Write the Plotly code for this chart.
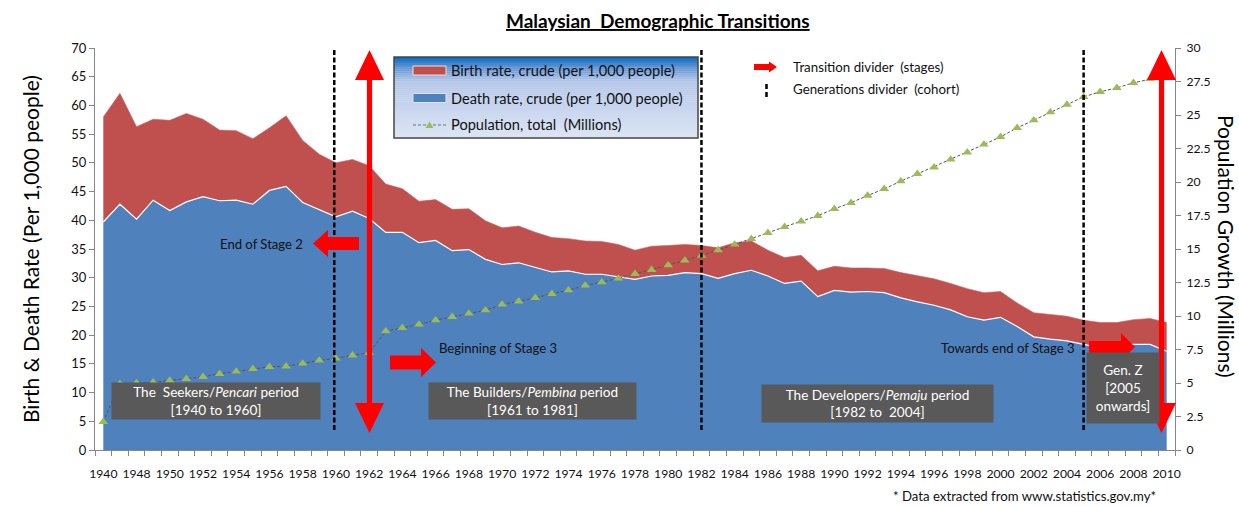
import plotly.graph_objects as go

# ---------------- data ----------------
years = [1940, 1947, 1948, 1949, 1950, 1951, 1952, 1953, 1954, 1955, 1956, 1957,
         1958, 1959, 1960, 1961, 1962, 1963, 1964, 1965, 1966, 1967, 1968, 1969,
         1970, 1971, 1972, 1973, 1974, 1975, 1976, 1977, 1978, 1979, 1980, 1981,
         1982, 1983, 1984, 1985, 1986, 1987, 1988, 1989, 1990, 1991, 1992, 1993,
         1994, 1995, 1996, 1997, 1998, 1999, 2000, 2001, 2002, 2003, 2004, 2005,
         2006, 2007, 2008, 2009, 2010]

# blue (bottom) stacked area
death_rate = [39.7, 42.8, 40.2, 43.5, 41.7, 43.2, 44.1, 43.4, 43.5, 42.8, 45.2, 45.9,
              43.1, 41.9, 40.6, 41.6, 40.3, 37.9, 37.9, 36.1, 36.5, 34.7, 34.9, 33.2,
              32.3, 32.6, 31.8, 31.0, 31.2, 30.6, 30.6, 30.2, 29.7, 30.3, 30.4, 30.9,
              30.7, 29.9, 30.7, 31.3, 30.3, 29.0, 29.4, 26.7, 27.8, 27.5, 27.6, 27.4,
              26.5, 25.8, 25.2, 24.4, 23.2, 22.6, 23.1, 21.5, 19.7, 19.3, 19.0, 18.4,
              17.8, 18.1, 18.4, 18.4, 17.2]

# red (top) stacked area
birth_rate = [18.3, 19.3, 16.1, 14.1, 15.7, 15.4, 13.5, 12.3, 12.1, 11.4, 10.9, 12.3,
              10.8, 9.6, 9.4, 9.0, 9.2, 8.4, 7.6, 7.2, 7.1, 7.2, 7.1, 6.7,
              6.4, 6.4, 6.1, 6.0, 5.6, 5.8, 5.7, 5.6, 5.1, 5.2, 5.2, 4.9,
              4.9, 5.3, 5.4, 5.1, 4.5, 4.5, 4.5, 4.5, 4.2, 4.2, 4.1, 4.2,
              4.4, 4.6, 4.6, 4.6, 4.9, 4.8, 4.5, 4.1, 4.2, 4.3, 4.3, 4.2,
              4.4, 4.1, 4.3, 4.5, 5.0]

population = [2.10, 4.95, 5.00, 5.06, 5.19, 5.31, 5.46, 5.69, 5.86, 6.06, 6.21, 6.25,
              6.46, 6.68, 6.83, 7.07, 7.25, 8.87, 9.12, 9.37, 9.69, 9.94, 10.19, 10.43,
              10.86, 11.10, 11.36, 11.66, 11.93, 12.28, 12.52, 12.80, 13.15, 13.45, 13.79, 14.15,
              14.51, 14.92, 15.34, 15.76, 16.21, 16.66, 17.07, 17.48, 18.00, 18.45, 18.99, 19.49,
              20.06, 20.61, 21.10, 21.68, 22.22, 22.80, 23.37, 24.04, 24.61, 25.21, 25.78, 26.36,
              26.73, 27.03, 27.40, 27.70, 27.95]

tick_labels = [str(y) for y in years]

# ---------------- layout helpers ----------------
W, H = 1239, 506
L, R, T, B = 95, 1175, 48, 450
FONT = "Lato"
TXT = "#111111"


def px(x):
    return (x - L) / (R - L)


def py(y):
    return (B - y) / (B - T)


def poly(points):
    s = "M " + " L ".join(f"{px(x):.5f},{py(y):.5f}" for x, y in points) + " Z"
    return s


xs = list(range(len(years)))

fig = go.Figure()
fig.add_trace(go.Scatter(x=xs, y=death_rate, stackgroup="rates", mode="lines",
                         line=dict(color="white", width=1.2), fillcolor="#4F81BD",
                         name="Death rate, crude (per 1,000 people)", showlegend=False))
fig.add_trace(go.Scatter(x=xs, y=birth_rate, stackgroup="rates", mode="lines",
                         line=dict(color="#C9625F", width=0.6), fillcolor="#C0504D",
                         name="Birth rate, crude (per 1,000 people)", showlegend=False))
fig.add_trace(go.Scatter(x=xs, y=population, yaxis="y2", mode="lines+markers",
                         line=dict(color="#555555", width=1, dash="3px,2px"),
                         marker=dict(symbol="triangle-up", size=8.5, color="#9BBB59"),
                         name="Population, total  (Millions)", showlegend=False))

shapes = []
red = "#FF0000"

# generations dividers (dashed vertical)
for xi in [13.9, 36.0, 59.0]:
    shapes.append(dict(type="line", xref="x", yref="paper", x0=xi, x1=xi,
                       y0=py(430), y1=py(48), line=dict(color="black", width=2.5, dash="5px,2.5px")))

# transition dividers (double arrows)
for cx in [369.5, 1161.5]:
    shapes.append(dict(type="path", xref="paper", yref="paper", fillcolor=red, line=dict(width=0),
                       path=poly([(cx, 50), (cx + 14.5, 80), (cx + 2.6, 80), (cx + 2.6, 403),
                                  (cx + 14.5, 403), (cx, 433), (cx - 14.5, 403), (cx - 2.6, 403),
                                  (cx - 2.6, 80), (cx - 14.5, 80)])))

# block arrows
shapes.append(dict(type="path", xref="paper", yref="paper", fillcolor=red, line=dict(width=0),
                   path=poly([(313, 243.5), (328, 230), (328, 237), (359, 237), (359, 250),
                              (328, 250), (328, 257)])))
shapes.append(dict(type="path", xref="paper", yref="paper", fillcolor=red, line=dict(width=0),
                   path=poly([(390, 355.5), (421, 355.5), (421, 348), (436, 362.5), (421, 377),
                              (421, 369.5), (390, 369.5)])))
shapes.append(dict(type="path", xref="paper", yref="paper", fillcolor=red, line=dict(width=0),
                   path=poly([(1089, 341), (1121, 341), (1121, 333), (1135, 347), (1121, 361),
                              (1121, 354), (1089, 354)])))

# legend box with vertical gradient
lx0, lx1, ly0, ly1 = 394, 698, 57, 138
n = 40
stops = [(0.0, (0, 104, 188)), (0.10, (80, 138, 208)), (0.30, (180, 198, 233)), (1.0, (222, 230, 244))]


def grad(t):
    for (t0, c0), (t1, c1) in zip(stops[:-1], stops[1:]):
        if t <= t1:
            f = (t - t0) / (t1 - t0)
            return tuple(int(round(a + (b - a) * f)) for a, b in zip(c0, c1))
    return stops[-1][1]


for i in range(n):
    y0 = ly0 + (ly1 - ly0) * i / n
    y1 = ly0 + (ly1 - ly0) * (i + 1) / n + 0.3
    c = grad((i + 0.5) / n)
    shapes.append(dict(type="rect", xref="paper", yref="paper", x0=px(lx0), x1=px(lx1),
                       y0=py(y1), y1=py(y0), fillcolor=f"rgb{c}", line=dict(width=0)))
shapes.append(dict(type="rect", xref="paper", yref="paper", x0=px(lx0), x1=px(lx1),
                   y0=py(ly1), y1=py(ly0), line=dict(color="#454545", width=1.5)))

# legend swatches
shapes.append(dict(type="rect", xref="paper", yref="paper", x0=px(413), x1=px(446),
                   y0=py(75), y1=py(66), fillcolor="#C0504D", line=dict(color="#F2DCDB", width=1)))
shapes.append(dict(type="rect", xref="paper", yref="paper", x0=px(413), x1=px(446),
                   y0=py(102.5), y1=py(93.5), fillcolor="#4F81BD", line=dict(color="#DCE6F2", width=1)))
shapes.append(dict(type="line", xref="paper", yref="paper", x0=px(413), x1=px(446),
                   y0=py(125), y1=py(125), line=dict(color="#6f6f6f", width=1, dash="3px,2px")))
shapes.append(dict(type="path", xref="paper", yref="paper", fillcolor="#9BBB59", line=dict(width=0),
                   path=poly([(425.5, 128), (433.5, 128), (429.5, 121.5)])))

# second legend icons
shapes.append(dict(type="path", xref="paper", yref="paper", fillcolor=red, line=dict(width=0),
                   path=poly([(754, 64), (769, 64), (769, 61.5), (777, 67), (769, 72.5),
                              (769, 70), (754, 70)])))
shapes.append(dict(type="line", xref="paper", yref="paper", x0=px(766.5), x1=px(766.5),
                   y0=py(97), y1=py(81.5), line=dict(color="black", width=2.5, dash="5px,3px")))

annotations = []


def text(x, y, s, size, color=TXT, xanchor="left", **kw):
    annotations.append(dict(x=px(x), y=py(y), xref="paper", yref="paper", text=s, showarrow=False,
                            xanchor=xanchor, yanchor="middle",
                            font=dict(family=FONT, size=size, color=color), **kw))


nb = "\u00a0"
text(658, 20, f"<b><u>Malaysian{nb} Demographic Transitions</u></b>", 19, color="black", xanchor="center")

# legend texts
text(449, 70.5, "Birth rate, crude (per 1,000 people)", 14.6)
text(449, 98, "Death rate, crude (per 1,000 people)", 14.6)
text(449, 125, f"Population, total{nb} (Millions)", 14.6)
text(791, 67, f"Transition divider{nb} (stages)", 13.3)
text(791, 89, f"Generations divider{nb} (cohort)", 13.3)

# stage notes
text(305, 243.5, "End of Stage 2", 13.1, xanchor="right")
text(437, 348, "Beginning of Stage 3", 13.1)
text(1077, 348, "Towards end of Stage 3", 13.1, xanchor="right")

# period boxes


def box(cx, cy, w, h, s):
    annotations.append(dict(x=px(cx), y=py(cy), xref="paper", yref="paper", text=s, showarrow=False,
                            xanchor="center", yanchor="middle", width=w, height=h, borderpad=0,
                            bgcolor="#595959", align="center",
                            font=dict(family=FONT, size=13.6, color="white")))


box(216, 401.3, 208, 36, f"The{nb} Seekers/<i>Pencari</i> period<br>[1940 to 1960]")
box(532.5, 401.3, 207, 36, "The Builders/<i>Pembina</i> period<br>[1961 to 1981]")
box(877.5, 403.5, 231, 37, f"The Developers/<i>Pemaju</i> period<br>[1982 to{nb} 2004]")
box(1122.5, 388.3, 72, 70, "Gen. Z<br>[2005<br>onwards]")

# axis titles
annotations.append(dict(x=px(30), y=py(249), xref="paper", yref="paper", showarrow=False,
                        text="Birth & Death Rate (Per 1,000 people)", textangle=-90,
                        xanchor="center", yanchor="middle",
                        font=dict(family=FONT, size=21, color="black")))
annotations.append(dict(x=px(1227), y=py(246), xref="paper", yref="paper", showarrow=False,
                        text="Population Growth (Millions)", textangle=90,
                        xanchor="center", yanchor="middle",
                        font=dict(family=FONT, size=21, color="black")))

# footnote
text(1158, 496, "* Data extracted from www.statistics.gov.my*", 13.2, xanchor="right")

axis_line = "#868686"
fig.update_layout(
    width=W, height=H,
    margin=dict(l=L, r=W - R, t=T, b=H - B, pad=0),
    paper_bgcolor="white", plot_bgcolor="white",
    font=dict(family=FONT, color=TXT),
    showlegend=False,
    xaxis=dict(range=[-0.5, len(years) - 0.5], tickmode="array", tickvals=xs[::2],
               ticktext=tick_labels[::2], ticks="outside", ticklen=8, tickcolor="rgba(0,0,0,0)",
               ticklabelstandoff=4,
               tickfont=dict(family=FONT, size=12.2, color=TXT),
               showline=True, linecolor=axis_line, linewidth=1, showgrid=False, zeroline=False,
               minor=dict(tickmode="linear", tick0=-0.5, dtick=1, ticks="outside", ticklen=5,
                          tickcolor=axis_line, showgrid=False)),
    yaxis=dict(range=[0, 70], dtick=5, ticks="outside", ticklen=5, tickcolor=axis_line,
               tickfont=dict(family=FONT, size=13, color=TXT),
               showline=True, linecolor=axis_line, linewidth=1, showgrid=False, zeroline=False),
    yaxis2=dict(range=[0, 30], dtick=2.5, overlaying="y", side="right", ticks="outside",
                ticklen=5, tickcolor=axis_line, ticklabelstandoff=3,
                tickfont=dict(family=FONT, size=12.2, color=TXT),
                showline=True, linecolor=axis_line, linewidth=1, showgrid=False, zeroline=False),
    shapes=shapes,
    annotations=annotations,
)

fig.write_html("out.html", config={"displayModeBar": False},
               post_script="document.body.style.margin='0px';")
